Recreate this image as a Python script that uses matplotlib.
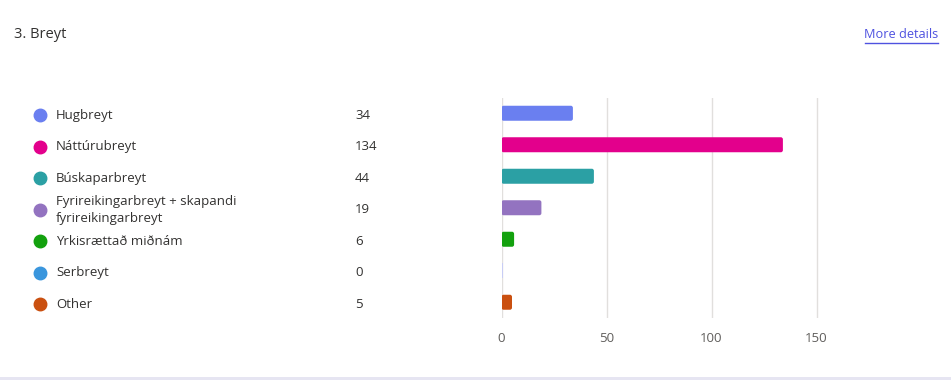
import matplotlib.pyplot as plt
from matplotlib.patches import FancyBboxPatch, Rectangle
from matplotlib.transforms import blended_transform_factory, offset_copy

categories = ['Hugbreyt', 'Náttúrubreyt', 'Búskaparbreyt',
              'Fyrireikingarbreyt + skapandi\nfyrireikingarbreyt',
              'Yrkisrættað miðnám', 'Serbreyt', 'Other']
counts = [34, 134, 44, 19, 6, 0, 5]
colors = ['#6a7ff0', '#e3008c', '#2ba0a4', '#9373c0', '#13a10e', '#3a96dd', '#ca5010']
xticks = [0, 50, 100, 150]

plt.rcParams['font.family'] = ['Open Sans', 'DejaVu Sans']
W, H = 951, 380
fig = plt.figure(figsize=(W / 100, H / 100), dpi=100)

# axes placed in pixel units
left, right, top, bottom = 501.5, 827, 97.5, 318
ax = fig.add_axes([left / W, 1 - bottom / H, (right - left) / W, (bottom - top) / H])
ax.set_xlim(0, 155)
ax.set_ylim(len(categories) - 0.5, -0.5)

for x in xticks:
    ax.axvline(x, color='#e1dfdd', lw=1, zorder=0)
for s in ax.spines.values():
    s.set_visible(False)
ax.set_yticks([])
ax.set_xticks(xticks)
ax.tick_params(axis='x', length=0, pad=10, labelsize=9.5, labelcolor='#605e5c')

# rounded bars
px_x = (right - left) / 155
px_y = (bottom - top) / len(categories)
bh = 15 / px_y
for i, (v, c) in enumerate(zip(counts, colors)):
    if v == 0:
        ax.add_patch(Rectangle((0, i - bh / 2), 0.7, bh, color='#c8cdf5', lw=0))
        continue
    p = FancyBboxPatch((0, i - bh / 2), v, bh,
                       boxstyle='round,pad=0,rounding_size=1',
                       mutation_aspect=px_x / px_y, fc=c, ec='none')
    ax.add_patch(p)

# left legend list, a little below bar centres like the reference
tr = blended_transform_factory(fig.transFigure, ax.transData)
tr = offset_copy(tr, fig=fig, y=-2, units='dots')
for i, (name, v, c) in enumerate(zip(categories, counts, colors)):
    fig.add_artist(plt.Line2D([40 / W], [i], transform=tr, marker='o', ms=9,
                              mfc=c, mec=c, ls='none'))
    fig.text(56 / W, i, name, transform=tr, color='#323130', fontsize=9.5,
             va='center', ha='left', linespacing=1.45)
    fig.text(355 / W, i, str(v), transform=tr, color='#323130', fontsize=9.5,
             va='center', ha='left')

fig.text(14 / W, 1 - 34 / H, '3. Breyt', fontsize=10.5, color='#323130', va='center')
fig.text(938 / W, 1 - 34 / H, 'More details', fontsize=9.2, color='#4f52e0',
         va='center', ha='right')
fig.add_artist(plt.Line2D([865 / W, 938 / W], [1 - 42.5 / H, 1 - 42.5 / H], color='#4f52e0', lw=1))

fig.add_artist(Rectangle((0, 0), 1, 3.5 / H, transform=fig.transFigure, color='#e6e5f2', lw=0))

fig.savefig('out.png', dpi=100)
